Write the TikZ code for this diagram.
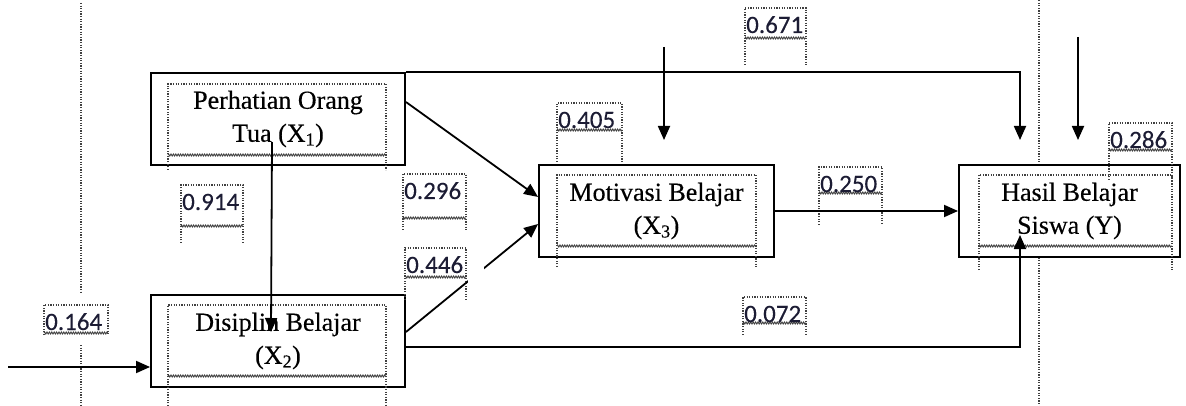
\documentclass[tikz,border=0pt]{standalone}
\usepackage{fontspec}
\setmainfont{Liberation Serif}[FakeBold=0.35]
\newfontfamily\numfont{Carlito}[FakeBold=0.2]
\usetikzlibrary{arrows.meta,decorations.pathmorphing}
\definecolor{numcol}{RGB}{28,28,52}

\tikzset{
  box/.style={draw=black, line width=1.9pt, fill=white, minimum height=92pt,
    inner sep=0pt, align=center, font=\fontsize{26}{33}\selectfont},
  arr/.style={line width=1.8pt, -{Triangle[length=14pt,width=12pt]}},
  dots/.style={draw=black!75, line width=1.2pt, dash pattern=on 1.2pt off 1.4pt},
  wavy/.style={draw=black!75, line width=0.9pt, decorate,
    decoration={zigzag, amplitude=1pt, segment length=2.4pt}},
  coef/.style={anchor=base west, inner sep=0pt,
    font=\numfont\fontsize{25}{25}\selectfont, text=numcol},
}

% text-box frame: left, top, right, wavy bottom, end of the side lines
\newcommand\tframe[5]{%
  \draw[dots] (#1,#5) -- (#1,#2) -- (#3,#2) -- (#3,#5);
  \draw[wavy] (#1,#4) -- (#3,#4);}
% path coefficient in its own frame
\newcommand\coefbox[7]{%
  \tframe{#1}{#2}{#3}{#4}{#5}
  \node[coef] (#6) at (#1+1,#2+25) {#7};}

\begin{document}
\begin{tikzpicture}[x=1pt,y=-1pt]
\useasboundingbox (0,0) rectangle (1186,406);

% page guide lines
\draw[dots] (81,3) -- (81,293);
\draw[dots] (81,345) -- (81,406);
\draw[dots] (1039,0) -- (1039,406);

% variables
\node[box, minimum width=254pt] (x1) at (278,119) {Perhatian Orang\\Tua (X\textsubscript{1})};
\node[box, minimum width=254pt] (x2) at (278,341) {Disiplin Belajar\\(X\textsubscript{2})};
\node[box, minimum width=235pt] (x3) at (656.5,211) {Motivasi Belajar\\(X\textsubscript{3})};
\node[box, minimum width=221pt] (y)  at (1069.5,211) {Hasil Belajar\\Siswa (Y)};

% inner text-box frames
\tframe{168}{84}{386}{155}{170}
\tframe{168}{305}{386}{376}{406}
\tframe{557}{175}{756}{246}{267}
\tframe{979}{175}{1172}{246}{270}

% coefficients
\coefbox{181}{185}{243}{226}{243}{c914}{0.914}
\coefbox{403}{174}{466}{218}{230}{c296}{0.296}
\coefbox{405}{248}{466}{277}{300}{c446}{0.446}
\coefbox{557}{103}{622}{130}{162}{c405}{0.405}
\coefbox{745}{8}{806}{38}{65}{c671}{0.671}
\coefbox{819}{167}{882}{193}{225}{c250}{0.250}
\coefbox{1109}{123}{1172}{150}{180}{c286}{0.286}
\coefbox{743}{297}{806}{323}{335}{c072}{0.072}
\coefbox{44}{305}{108}{333}{335}{c164}{0.164}

% free ends of the connectors
\coordinate (e2)   at (8,367);
\coordinate (e3)   at (664,47);
\coordinate (e3t)  at (664,140);
\coordinate (ey)   at (1078,37);
\coordinate (eyt)  at (1078,140);
\coordinate (yin1) at (1020,140);
\coordinate (yin3) at (1020,235);

% connectors
\draw[arr] (x1.north east) -| (yin1);
\draw[arr] ([yshift=17pt]x1.east) -- ([yshift=14pt]x3.west);
\draw[arr] ([yshift=9pt]x2.east) -- ([yshift=-13pt]x3.west);
\fill[white] (468,262) rectangle (484,288);
\draw[arr] ([xshift=-6pt,yshift=-23pt]x1.center) -- ([xshift=-7pt,yshift=9pt]x2.center);
\draw[arr] (x3.east) -- (y.west);
\draw[arr] ([yshift=-6pt]x2.east) -| (yin3);
\draw[arr] (e2) -- ([yshift=-26pt]x2.west);
\draw[arr] (e3) -- (e3t);
\draw[arr] (ey) -- (eyt);
\end{tikzpicture}
\end{document}
